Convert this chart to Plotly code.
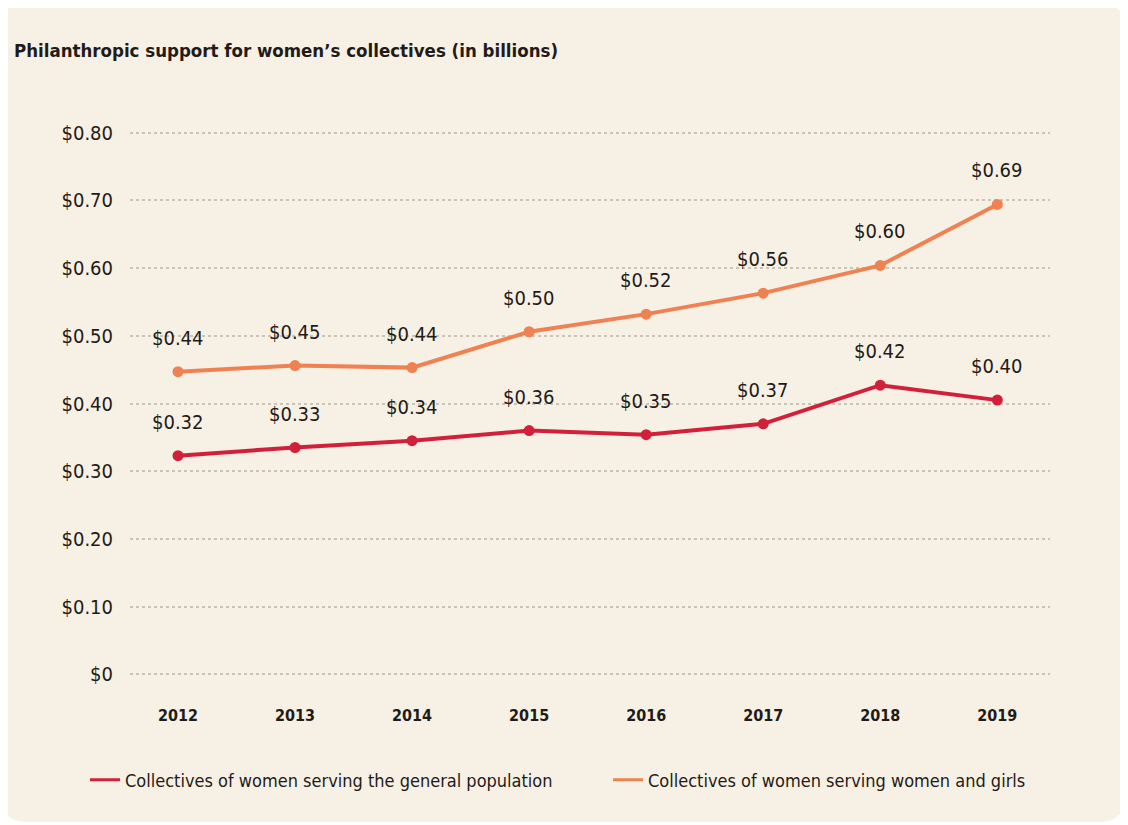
import plotly.graph_objects as go

years = [2012, 2013, 2014, 2015, 2016, 2017, 2018, 2019]
general_vals = [0.323, 0.335, 0.345, 0.360, 0.354, 0.370, 0.427, 0.405]
general_labels = ["$0.32", "$0.33", "$0.34", "$0.36", "$0.35", "$0.37", "$0.42", "$0.40"]
women_vals = [0.447, 0.456, 0.453, 0.506, 0.532, 0.563, 0.604, 0.694]
women_labels = ["$0.44", "$0.45", "$0.44", "$0.50", "$0.52", "$0.56", "$0.60", "$0.69"]
tick_vals = [0, 0.1, 0.2, 0.3, 0.4, 0.5, 0.6, 0.7, 0.8]
tick_text = ["$0", "$0.10", "$0.20", "$0.30", "$0.40", "$0.50", "$0.60", "$0.70", "$0.80"]
series_names = ["Collectives of women serving the general population",
                "Collectives of women serving women and girls"]

RED = "#d3203a"
ORANGE = "#ef8152"
FONT = "DejaVu Sans Condensed, DejaVu Sans, sans-serif"
TXT = "#1f1b18"
BG = "#f7f0e4"

W, H = 1128, 825
OFF = 8  # page offset of the figure (body margin)
ML, MR, MT, MB = 130 - OFF, 86, 130 - OFF, H - (677 - OFF)
pw = W - ML - MR
ph = H - MT - MB


def px(x):
    """page x -> paper x"""
    return (x - OFF - ML) / pw


def py(y):
    """page y -> paper y"""
    return (H - MB - (y - OFF)) / ph


fig = go.Figure()

for vals, color in [(general_vals, RED), (women_vals, ORANGE)]:
    fig.add_trace(go.Scatter(
        x=years, y=vals, mode="lines+markers",
        line=dict(color=color, width=4),
        marker=dict(color=color, size=11),
        showlegend=False, hoverinfo="skip",
    ))

for name, color, lg in zip(series_names, [RED, ORANGE], ["legend", "legend2"]):
    fig.add_trace(go.Scatter(
        x=[None], y=[None], mode="lines", name=name, legend=lg,
        line=dict(color=color, width=3),
    ))

annotations = []
for vals, labels in [(general_vals, general_labels), (women_vals, women_labels)]:
    for x, v, t in zip(years, vals, labels):
        annotations.append(dict(
            x=x, y=v, text=t, showarrow=False, yshift=34,
            font=dict(family=FONT, size=20, color=TXT),
        ))

annotations.append(dict(
    x=px(12), y=py(50), xref="paper", yref="paper",
    text="<b>Philanthropic support for women’s collectives (in billions)</b>",
    showarrow=False, xanchor="left", yanchor="middle",
    font=dict(family=FONT, size=18.5, color=TXT),
))

r = 28
x0, x1, y0, y1 = 0, 1126, 3, 822
path = (
    f"M {px(x0 + r)} {py(y0)} L {px(x1 - r)} {py(y0)} "
    f"Q {px(x1)} {py(y0)} {px(x1)} {py(y0 + r)} "
    f"L {px(x1)} {py(y1 - r)} Q {px(x1)} {py(y1)} {px(x1 - r)} {py(y1)} "
    f"L {px(x0 + r)} {py(y1)} Q {px(x0)} {py(y1)} {px(x0)} {py(y1 - r)} "
    f"L {px(x0)} {py(y0 + r)} Q {px(x0)} {py(y0)} {px(x0 + r)} {py(y0)} Z"
)

legend_common = dict(
    orientation="h", xanchor="left", yanchor="middle", y=py(780),
    bgcolor="rgba(0,0,0,0)", font=dict(family=FONT, size=18, color=TXT),
    itemwidth=30,
)

fig.update_layout(
    width=W, height=H,
    margin=dict(l=ML, r=MR, t=MT, b=MB, autoexpand=False),
    paper_bgcolor="white",
    plot_bgcolor="rgba(0,0,0,0)",
    annotations=annotations,
    shapes=[dict(type="path", path=path, xref="paper", yref="paper",
                 fillcolor=BG, line=dict(width=0), layer="below")],
    xaxis=dict(
        range=[2011.59, 2019.45], tickmode="array", tickvals=years,
        ticktext=[str(y) for y in years], showgrid=False, zeroline=False,
        showline=False, ticks="", ticklabelstandoff=27,
        tickfont=dict(family=FONT, size=16, color=TXT, weight="bold"),
    ),
    yaxis=dict(
        range=[-0.004, 0.804], tickmode="array", tickvals=tick_vals, ticktext=tick_text,
        showgrid=True, gridcolor="#c9c3b8", gridwidth=1.5, griddash="dot",
        zeroline=False, showline=False, ticks="", ticklabelstandoff=16,
        tickfont=dict(family=FONT, size=20, color=TXT),
    ),
    legend=dict(x=px(85), **legend_common),
    legend2=dict(x=px(608), **legend_common),
)

fig.write_html("out.html")
